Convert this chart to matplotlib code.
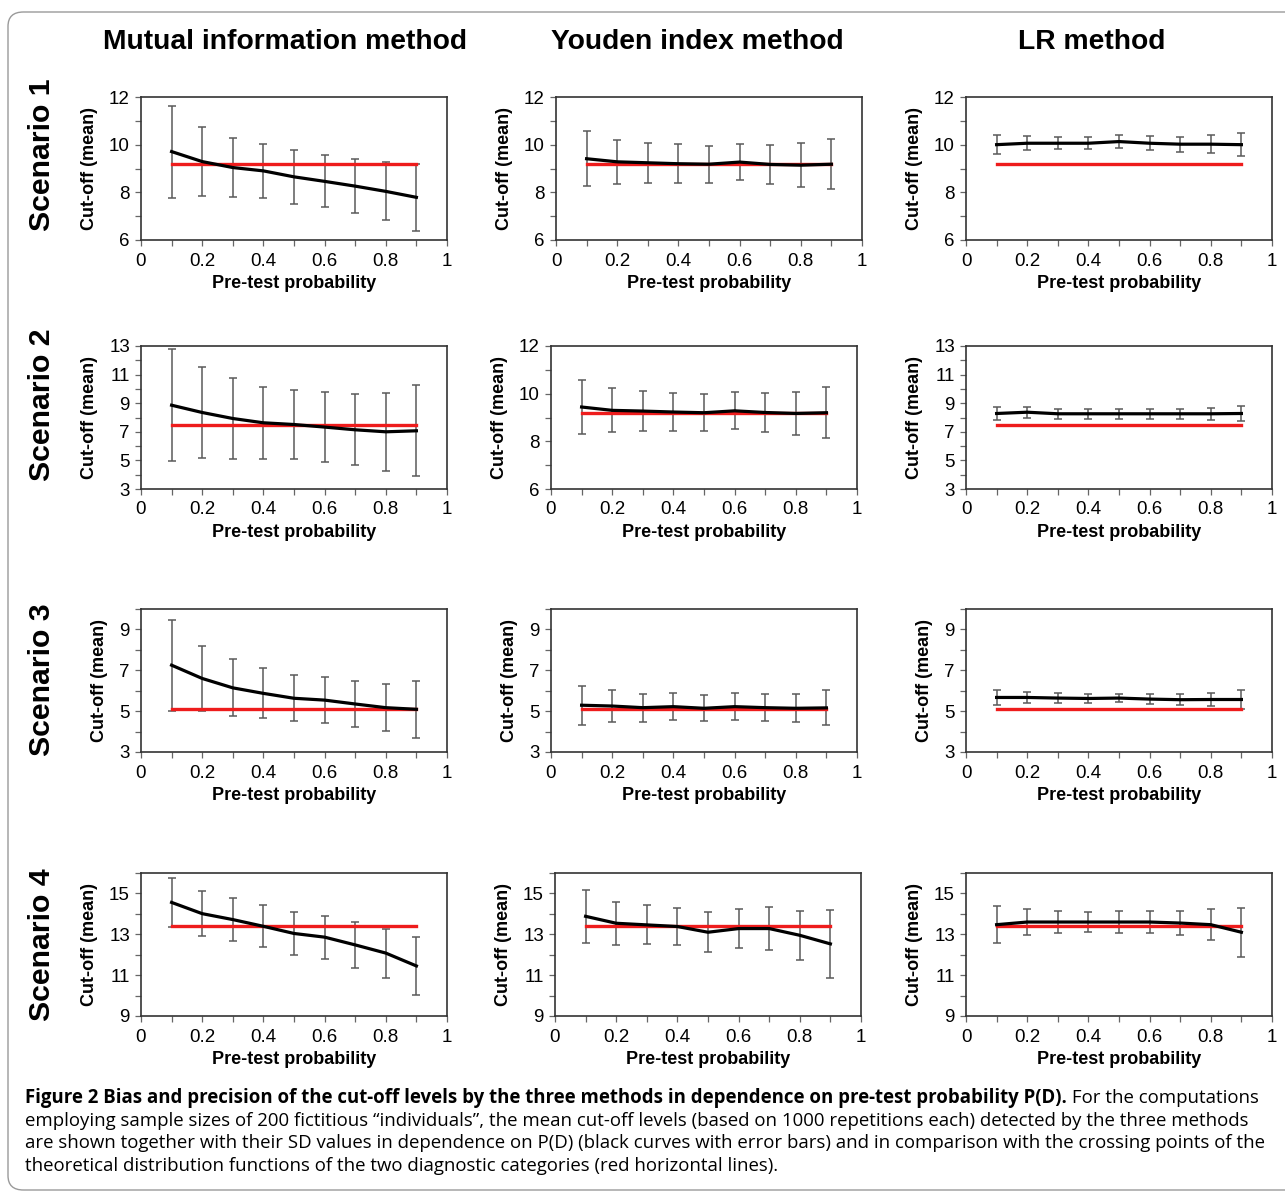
import numpy as np
import matplotlib
matplotlib.use("Agg")
import matplotlib.pyplot as plt
from matplotlib.patches import FancyBboxPatch
from matplotlib.ticker import FixedLocator, FuncFormatter

plt.rcParams['font.family'] = ['Liberation Sans', 'DejaVu Sans']

# pre-test probability P(D)
p_d = [0.1, 0.2, 0.3, 0.4, 0.5, 0.6, 0.7, 0.8, 0.9]

methods = ['Mutual information method', 'Youden index method', 'LR method']
scenarios = ['Scenario 1', 'Scenario 2', 'Scenario 3', 'Scenario 4']

# crossing points of the theoretical distribution functions (red lines), per panel
red_s1 = [9.2, 9.2, 9.2]
red_s2 = [7.5, 9.2, 7.5]
red_s3 = [5.1, 5.1, 5.1]
red_s4 = [13.4, 13.4, 13.4]
red_levels = [red_s1, red_s2, red_s3, red_s4]

# scenario 1
mi_s1_mean = [9.71, 9.29, 9.04, 8.90, 8.65, 8.46, 8.26, 8.04, 7.79]
mi_s1_sd = [1.93, 1.46, 1.24, 1.14, 1.12, 1.09, 1.13, 1.22, 1.40]
yi_s1_mean = [9.41, 9.28, 9.24, 9.20, 9.18, 9.27, 9.17, 9.14, 9.18]
yi_s1_sd = [1.15, 0.92, 0.84, 0.82, 0.78, 0.76, 0.83, 0.92, 1.05]
lr_s1_mean = [10.00, 10.06, 10.06, 10.06, 10.13, 10.06, 10.02, 10.02, 10.00]
lr_s1_sd = [0.40, 0.30, 0.25, 0.25, 0.27, 0.29, 0.32, 0.39, 0.49]

# scenario 2
mi_s2_mean = [8.86, 8.35, 7.93, 7.63, 7.51, 7.33, 7.14, 7.00, 7.07]
mi_s2_sd = [3.93, 3.20, 2.80, 2.53, 2.43, 2.43, 2.47, 2.73, 3.17]
yi_s2_mean = [9.44, 9.30, 9.27, 9.23, 9.20, 9.28, 9.21, 9.17, 9.20]
yi_s2_sd = [1.13, 0.92, 0.84, 0.81, 0.78, 0.77, 0.83, 0.91, 1.06]
lr_s2_mean = [8.28, 8.37, 8.26, 8.26, 8.26, 8.26, 8.26, 8.26, 8.28]
lr_s2_sd = [0.47, 0.37, 0.33, 0.33, 0.33, 0.33, 0.35, 0.41, 0.55]

# scenario 3
mi_s3_mean = [7.25, 6.60, 6.14, 5.87, 5.63, 5.54, 5.35, 5.17, 5.09]
mi_s3_sd = [2.22, 1.61, 1.39, 1.22, 1.12, 1.11, 1.12, 1.16, 1.39]
yi_s3_mean = [5.29, 5.25, 5.17, 5.22, 5.14, 5.22, 5.17, 5.14, 5.16]
yi_s3_sd = [0.96, 0.78, 0.69, 0.66, 0.64, 0.66, 0.65, 0.69, 0.86]
lr_s3_mean = [5.67, 5.67, 5.64, 5.62, 5.64, 5.59, 5.56, 5.57, 5.57]
lr_s3_sd = [0.37, 0.27, 0.24, 0.23, 0.21, 0.23, 0.28, 0.34, 0.47]

# scenario 4
mi_s4_mean = [14.56, 14.01, 13.72, 13.39, 13.04, 12.86, 12.48, 12.08, 11.45]
mi_s4_sd = [1.21, 1.11, 1.04, 1.03, 1.07, 1.05, 1.14, 1.20, 1.43]
yi_s4_mean = [13.88, 13.54, 13.46, 13.38, 13.10, 13.28, 13.28, 12.95, 12.53]
yi_s4_sd = [1.31, 1.06, 0.95, 0.91, 0.98, 0.97, 1.05, 1.21, 1.66]
lr_s4_mean = [13.47, 13.60, 13.60, 13.60, 13.60, 13.60, 13.55, 13.47, 13.10]
lr_s4_sd = [0.90, 0.64, 0.53, 0.51, 0.52, 0.53, 0.60, 0.75, 1.20]

panels = [
    [(mi_s1_mean, mi_s1_sd), (yi_s1_mean, yi_s1_sd), (lr_s1_mean, lr_s1_sd)],
    [(mi_s2_mean, mi_s2_sd), (yi_s2_mean, yi_s2_sd), (lr_s2_mean, lr_s2_sd)],
    [(mi_s3_mean, mi_s3_sd), (yi_s3_mean, yi_s3_sd), (lr_s3_mean, lr_s3_sd)],
    [(mi_s4_mean, mi_s4_sd), (yi_s4_mean, yi_s4_sd), (lr_s4_mean, lr_s4_sd)],
]

# y axis setup per panel: (lo, hi, major ticks)
ax_1 = (6, 12, [6, 8, 10, 12])
ax_2 = (3, 13, [3, 5, 7, 9, 11, 13])
ax_3 = (3, 10, [3, 5, 7, 9])
ax_4 = (9, 16, [9, 11, 13, 15])
yaxes = [[ax_1, ax_1, ax_1], [ax_2, ax_1, ax_2], [ax_3, ax_3, ax_3], [ax_4, ax_4, ax_4]]

W, H = 1285, 1196
fig = plt.figure(figsize=(W / 100, H / 100), dpi=100)

# rounded frame round the figure
frame = FancyBboxPatch((8 / W, 6 / H), 1.2, 1 - 18 / H, boxstyle="round,pad=0,rounding_size=0.012",
                       transform=fig.transFigure, fc='none', ec='#9a9a9a', lw=1.0)
fig.patches.append(frame)

col_left = [[141, 556, 966], [141, 551, 966], [141, 551, 966], [141, 555, 966]]
row_top = [97, 346, 609, 873]
pw, ph = 306, 143

for r in range(4):
    for c in range(3):
        l = col_left[r][c]
        t = row_top[r]
        ax = fig.add_axes([l / W, 1 - (t + ph) / H, pw / W, ph / H])
        mean, sd = panels[r][c]
        lo, hi, majors = yaxes[r][c]
        level = red_levels[r][c]
        ax.errorbar(p_d, mean, yerr=sd, fmt='none', ecolor='#5a5a5a', elinewidth=1.1,
                    capsize=3, capthick=1.1, zorder=2)
        ax.plot([p_d[0], p_d[-1]], [level, level], color='#ee1c1c', lw=2.4, zorder=3)
        ax.plot(p_d, mean, color='black', lw=2.3, zorder=4)
        ax.set_xlim(0, 1)
        ax.set_ylim(lo, hi)
        ax.xaxis.set_major_locator(FixedLocator([0, 0.2, 0.4, 0.6, 0.8, 1.0]))
        ax.xaxis.set_minor_locator(FixedLocator(p_d[::2]))
        ax.xaxis.set_major_formatter(FuncFormatter(lambda v, pos: f'{v:g}'))
        ax.yaxis.set_major_locator(FixedLocator(majors))
        ax.yaxis.set_minor_locator(FixedLocator([v for v in range(lo, hi + 1) if v not in majors]))
        ax.tick_params(which='both', direction='out', length=4, width=0.9, color='#666666',
                       labelsize=13.5, pad=4)
        ax.tick_params(axis='x', pad=5)
        for s in ax.spines.values():
            s.set_color('#333333')
            s.set_linewidth(1.2)
        ax.set_xlabel('Pre-test probability', fontsize=13, fontweight='bold', labelpad=4)
        ax.set_ylabel('Cut-off (mean)', fontsize=13, fontweight='bold', labelpad=8)

# column titles
title_x = [285, 697, 1092]
for c, name in enumerate(methods):
    fig.text(title_x[c] / W, 1 - 42 / H, name, ha='center', va='center',
             fontsize=20.3, fontweight='bold')

# row titles
row_mid = [155, 405, 680, 945]
for r, name in enumerate(scenarios):
    fig.text(42 / W, 1 - row_mid[r] / H, name, ha='center', va='center', rotation=90,
             fontsize=21.8, fontweight='bold')

# caption
cap_bold = ('Figure 2 Bias and precision of the cut-off levels by the three methods in '
            'dependence on pre-test probability P(D).')
cap_lines = [
    ' For the computations',
    'employing sample sizes of 200 fictitious \u201cindividuals\u201d, the mean cut-off levels '
    '(based on 1000 repetitions each) detected by the three methods',
    'are shown together with their SD values in dependence on P(D) (black curves with error bars) '
    'and in comparison with the crossing points of the',
    'theoretical distribution functions of the two diagnostic categories (red horizontal lines).',
]
cap_font = ['Open Sans', 'DejaVu Sans']
cap_size = 13.4
x0 = 25 / W
tb = fig.text(x0, 1 - 1098 / H, cap_bold, fontsize=cap_size, fontweight='bold', family=cap_font,
              va='center', ha='left')
renderer = fig.canvas.get_renderer()
bb = tb.get_window_extent(renderer)
fig.text(bb.x1 / W, 1 - 1098 / H, cap_lines[0], fontsize=cap_size, family=cap_font,
         va='center', ha='left')
for i, line in enumerate(cap_lines[1:]):
    fig.text(x0, 1 - (1121 + 22.5 * i) / H, line, fontsize=cap_size, family=cap_font,
             va='center', ha='left')

fig.savefig('out.png', dpi=100)
